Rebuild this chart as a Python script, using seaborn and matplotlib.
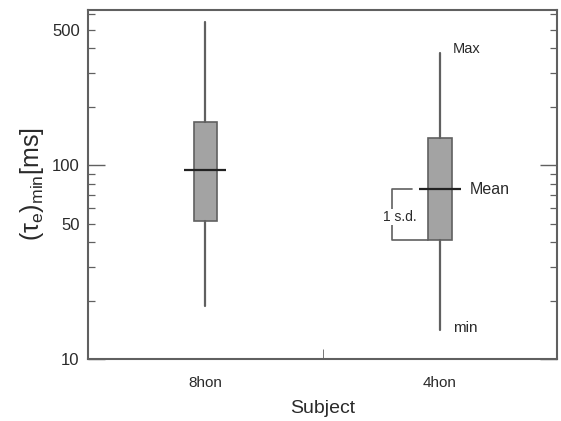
import numpy as np
import matplotlib
matplotlib.use("Agg")
import matplotlib.pyplot as plt
import matplotlib.ticker as mticker
import seaborn as sns

# values (ms)
subjects = ["8hon", "4hon"]
tau_min = [18.8, 14.1]
tau_sd_low = [51.4, 41.1]
tau_mean = [94.3, 75.2]
tau_sd_high = [166.6, 137.8]
tau_max = [546.0, 378.0]

sns.set_style("white")
plt.rcParams["font.family"] = ["Liberation Sans", "DejaVu Sans"]
plt.rcParams["mathtext.default"] = "regular"

edge = "#606060"
txt = "#2a2a2a"

fig = plt.figure(figsize=(5.61, 4.21), dpi=100)
ax = fig.add_axes([0.157, 0.147, 0.836, 0.829])

stats = []
for i, s in enumerate(subjects):
    stats.append({"label": s, "whislo": tau_min[i], "q1": tau_sd_low[i],
                  "med": tau_mean[i], "q3": tau_sd_high[i], "whishi": tau_max[i]})
pos = np.arange(len(subjects))
ax.bxp(stats, positions=pos, widths=0.1, showcaps=False, showfliers=False,
       patch_artist=True,
       boxprops=dict(facecolor="#a3a3a3", edgecolor=edge, linewidth=1.2),
       whiskerprops=dict(color=edge, linewidth=1.6),
       medianprops=dict(linewidth=0))
# mean lines (wider than the box)
ax.hlines(tau_mean, pos - 0.09, pos + 0.09, color="#222222", linewidth=1.6, zorder=5)

ax.set_yscale("log")
ax.set_ylim(10, 630)
ax.set_xlim(-0.5, 1.5)

ax.yaxis.set_major_locator(mticker.FixedLocator([10, 100]))
ax.yaxis.set_major_formatter(mticker.FixedFormatter(["10", "100"]))
ax.yaxis.set_minor_locator(mticker.LogLocator(base=10, subs=np.arange(2, 10)))
ax.yaxis.set_minor_formatter(mticker.FuncFormatter(
    lambda v, p: "%d" % round(v) if round(v) in (50, 500) else ""))
ax.tick_params(axis="y", which="both", direction="in", left=True, right=True,
               colors=edge, labelcolor=txt, labelsize=12, pad=6)
ax.tick_params(axis="y", which="major", length=12, width=1)
ax.tick_params(axis="y", which="minor", length=5, width=0.9)

ax.set_xticks(pos)
ax.set_xticklabels(subjects)
ax.xaxis.set_minor_locator(mticker.FixedLocator([0.5]))
ax.tick_params(axis="x", which="major", length=0, labelsize=11, labelcolor=txt, pad=12)
ax.tick_params(axis="x", which="minor", direction="in", length=7, color=edge, bottom=True)

for sp in ax.spines.values():
    sp.set_color(edge)
    sp.set_linewidth(1.5)

ax.set_xlabel("Subject", fontsize=14, color=txt, labelpad=7)
ax.set_ylabel(r"($\tau_{e}$)$_{min}$[ms]", fontsize=18, color=txt, labelpad=4)

# annotations on the 4hon box
ax.text(1.056, 398, "Max", fontsize=10.5, color=txt, va="center", ha="left")
ax.text(1.129, tau_mean[1], "Mean", fontsize=11.5, color=txt, va="center", ha="left")
ax.text(1.056, 14.4, "min", fontsize=11, color=txt, va="center", ha="left")
ax.plot([0.882, 0.796, 0.796, 0.95], [tau_mean[1], tau_mean[1], tau_sd_low[1], tau_sd_low[1]],
        color=edge, linewidth=1.2)
ax.text(0.83, 54, "1 s.d.", fontsize=10, color=txt, va="center", ha="center",
        bbox=dict(facecolor="white", edgecolor="none", pad=0.5))

fig.savefig("out.png", dpi=100)
